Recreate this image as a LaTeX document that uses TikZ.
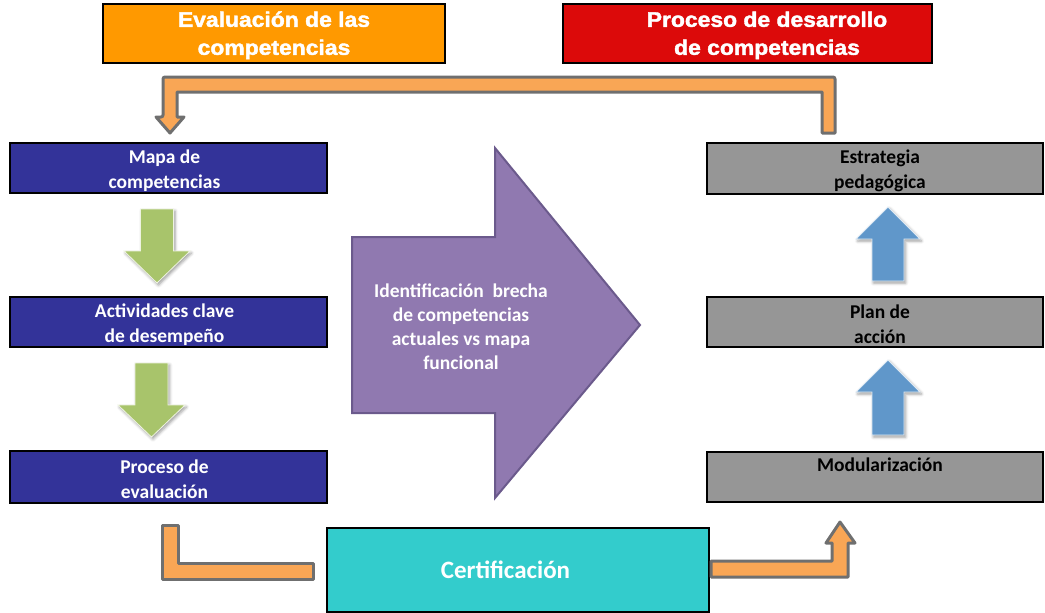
\documentclass[tikz,border=0pt]{standalone}
\usepackage{fontspec}
\setmainfont{Carlito}
\newfontfamily\titlefont{Liberation Sans}[BoldFeatures={FakeStretch=1.09,FakeBold=2}]
\usetikzlibrary{shadows.blur}
\definecolor{titleorange}{HTML}{FF9900}
\definecolor{titlered}{HTML}{DC0A0A}
\definecolor{boxblue}{HTML}{333399}
\definecolor{boxgrey}{HTML}{969696}
\definecolor{certteal}{HTML}{33CCCC}
\definecolor{connorange}{HTML}{F9A655}
\definecolor{conngrey}{HTML}{6F6F6F}
\definecolor{arrgreen}{HTML}{A8C46B}
\definecolor{arrblue}{HTML}{6097CA}
\definecolor{gapfill}{HTML}{9079B0}
\definecolor{gapdraw}{HTML}{6B5A8C}
\newcommand\topstrut{\rule{0pt}{19pt}}
\newcommand\lsh{\hspace*{8pt}}
\newcommand\rsh{\hspace*{10pt}}
\begin{document}
\begin{tikzpicture}[x=1pt,y=-1pt,
  titlebox/.style={draw=black, line width=2.5pt, inner sep=0pt, text=white, align=center,
    font=\titlefont\bfseries\fontsize{21}{28}\selectfont},
  bluebox/.style={draw=black, line width=2.5pt, fill=boxblue, minimum width=317pt, minimum height=50pt,
    inner sep=0pt, text=white, align=center, font=\bfseries\fontsize{19.5}{25}\selectfont},
  greybox/.style={draw=black, line width=2.5pt, fill=boxgrey, minimum width=336pt, minimum height=50pt,
    inner sep=0pt, text=black, align=center, font=\bfseries\fontsize{19.5}{25}\selectfont},
  orangeconn/.style={fill=connorange, draw=conngrey, line width=3pt, line join=round},
  greenarr/.style={fill=arrgreen, draw=white!80!arrgreen, line width=0.8pt,
    blur shadow={shadow xshift=1.5pt, shadow yshift=-2pt, shadow blur radius=3pt, shadow opacity=40}},
  bluearr/.style={fill=arrblue, draw=white!80!arrblue, line width=0.8pt,
    blur shadow={shadow xshift=1.5pt, shadow yshift=-2pt, shadow blur radius=3pt, shadow opacity=40}},
  gaparr/.style={fill=gapfill, draw=gapdraw, line width=2pt, line join=miter}
]
\useasboundingbox (0,0) rectangle (1045,613);

% title boxes
\node[titlebox, fill=titleorange, minimum width=342pt, minimum height=59pt] (eval) at (274,33.5)
  {\topstrut Evaluación de las\\competencias};
\node[titlebox, fill=titlered, minimum width=369pt, minimum height=59pt] (desa) at (747.5,33.5)
  {\topstrut\hspace*{39pt}Proceso de desarrollo\\\hspace*{39pt}de competencias};

% left column
\node[bluebox] (mapa) at (168.5,168) {\topstrut Mapa de\lsh\\competencias\lsh};
\node[bluebox] (acti) at (168.5,322) {\topstrut Actividades clave\lsh\\de desempeño\lsh};
\node[bluebox, minimum height=52pt] (peva) at (168.5,477) {\topstrut Proceso de\lsh\\evaluación\lsh};

% right column
\node[greybox, minimum height=51pt] (estr) at (875,168.5) {\topstrut\rsh Estrategia\\\rsh pedagógica};
\node[greybox] (plan) at (875,322) {\topstrut\rsh Plan de\\\rsh acción};
\node[greybox] (modu) at (875,477) {\rsh Modularización\\~};

% certification
\node[draw=black, line width=2.5pt, fill=certteal, minimum width=382pt, minimum height=84pt,
  inner sep=0pt, text=white, font=\bfseries\fontsize{25}{28}\selectfont] (cert) at (518,570)
  {Certificación\hspace*{25pt}\null};

% top connector: from strategy back to competency map
\draw[orangeconn, rounded corners=2pt] (835,133) -- (835,77) -- (163,77) -- (163,117)
  [sharp corners] -- (156,117) -- (170,133) -- (184,117) -- (177,117) -- (177,92) -- (822,92) -- (822,133) -- cycle;

% bottom-left connector: evaluation to certification
\draw[orangeconn] (162,525) -- (162,579) -- (313,579) -- (313,563) -- (178,563) -- (178,525) -- cycle;

% bottom-right connector: certification to modularization
\draw[orangeconn] (711,561) -- (711,577) -- (848,577) -- (848,543) -- (855,543) -- (840,522)
  -- (826,543) -- (832,543) -- (832,561) -- cycle;

% green down arrows
\draw[greenarr] (140.5,209) -- (173.5,209) -- (173.5,251) -- (190,251) -- (157,283) -- (124,251) -- (140.5,251) -- cycle;
\draw[greenarr] (135,363) -- (168,363) -- (168,405) -- (185,405) -- (151.5,437) -- (118,405) -- (135,405) -- cycle;

% blue up arrows
\draw[bluearr] (872,281) -- (904,281) -- (904,239) -- (920,239) -- (888,207) -- (856,239) -- (872,239) -- cycle;
\draw[bluearr] (872,435) -- (904,435) -- (904,392) -- (920,392) -- (888,360) -- (856,392) -- (872,392) -- cycle;

% central gap arrow
\draw[gaparr] (352,237) -- (495,237) -- (495,148) -- (640,325) -- (495,498) -- (495,413) -- (352,413) -- cycle;
\node[text=white, align=center, font=\bfseries\fontsize{19.5}{24}\selectfont] (gap) at (461,327)
  {Identificación\ \ brecha\\de competencias\\actuales vs mapa\\funcional};
\end{tikzpicture}
\end{document}
